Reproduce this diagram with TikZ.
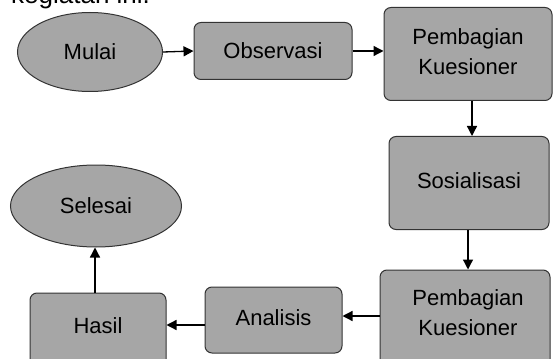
\documentclass[tikz,border=0pt]{standalone}
\usepackage{fontspec}
\setmainfont{Liberation Sans}
\usetikzlibrary{shapes.geometric,arrows.meta}
\begin{document}
\begin{tikzpicture}[x=1pt,y=-1pt,
  boxstyle/.style={draw=black!80, line width=1pt, fill=gray!70!white, rounded corners=7pt, inner sep=0pt},
  ovalstyle/.style={ellipse, draw=black!80, line width=1pt, fill=gray!70!white, inner sep=0pt, font=\fontsize{22}{30}\selectfont},
  txt/.style={inner sep=0pt, align=center, font=\fontsize{22}{30}\selectfont},
  arr/.style={-{Triangle[length=10pt,width=10pt]}, line width=1.3pt}]
\clip (0,0) rectangle (553,358);
\useasboundingbox (0,0) rectangle (553,358);
\node[anchor=base west, font=\fontsize{26}{30}\selectfont, inner sep=0pt] (top) at (11,4) {kegiatan ini.};
\node[ovalstyle, minimum width=145pt, minimum height=79pt] (mulai) at (90,52) {Mulai};
\node[boxstyle, minimum width=158pt, minimum height=57pt] (obs) at (273,51) {};
\node[txt] (obst) at (obs) {Observasi};
\node[boxstyle, minimum width=168pt, minimum height=93pt] (pk1) at (468,54) {};
\node[txt] (pk1t) at (468,52) {Pembagian\\Kuesioner};
\node[boxstyle, minimum width=160pt, minimum height=93pt] (sos) at (469,183) {};
\node[txt] (sost) at (469,181) {Sosialisasi};
\node[boxstyle, minimum width=170pt, minimum height=100pt] (pk2) at (465,320) {};
\node[txt] (pk2t) at (468,313) {Pembagian\\Kuesioner};
\node[boxstyle, minimum width=137pt, minimum height=66pt] (ana) at (273.5,320) {};
\node[txt] (anat) at (273.5,318) {Analisis};
\node[boxstyle, minimum width=136pt, minimum height=80pt] (hasil) at (98,333) {};
\node[txt] (hasilt) at (98,326) {Hasil};
\node[ovalstyle, minimum width=171pt, minimum height=82pt] (sel) at (96,206) {Selesai};
\draw[arr] (mulai.east) -- (obs.west);
\draw[arr] (obs.east) -- (obs.east -| pk1.west);
\draw[arr] (pk1.south -| 472,0) -- (sos.north -| 472,0);
\draw[arr] (sos.south -| 468,0) -- (pk2.north -| 468,0);
\draw[arr] (pk2.west |- 0,316) -- (ana.east |- 0,316);
\draw[arr] (ana.west |- 0,325) -- (hasil.east |- 0,325);
\draw[arr] (hasil.north -| 95,0) -- (sel.south -| 95,0);
\end{tikzpicture}
\end{document}
